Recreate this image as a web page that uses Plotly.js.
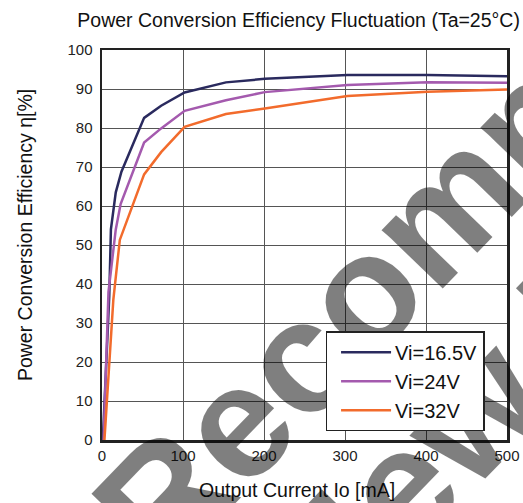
<!DOCTYPE html>
<html>
<head>
<meta charset="utf-8">
<script src="https://cdn.plot.ly/plotly-3.0.1.min.js"></script>
<style>html,body{margin:0;padding:0;background:#fff;}#chart{width:523px;height:503px;}</style>
</head>
<body>
<div id="chart"></div>
<script>
// Series data (Output current [mA] vs efficiency [%])
const seriesNames = ["Vi=16.5V", "Vi=24V", "Vi=32V"];
const xVi165 = [1, 9, 11, 17, 24, 52, 73, 102, 153, 201, 303, 402, 500];
const yVi165 = [0, 37, 54, 63.5, 68.8, 82.6, 85.7, 89.1, 91.7, 92.6, 93.6, 93.6, 93.3];
const xVi24 = [2, 8, 17, 23, 52, 73, 102, 153, 201, 303, 402, 500];
const yVi24 = [0, 38, 54, 60.5, 76.3, 79.9, 84.4, 87.1, 89.2, 91.0, 91.7, 91.6];
const xVi32 = [3, 14, 22, 52, 73, 102, 153, 201, 303, 402, 500];
const yVi32 = [0, 36, 51.3, 68.1, 73.8, 80.3, 83.6, 85.0, 88.2, 89.3, 89.9];
const xTicks = [0, 100, 200, 300, 400, 500];
const yTicks = [0, 10, 20, 30, 40, 50, 60, 70, 80, 90, 100];
const colors = ["#2a2a5e", "#a45aae", "#f26b2c"];

const FONT = "Liberation Sans, Arial, sans-serif";
const traces = [
  {x: xVi165, y: yVi165, name: seriesNames[0], line: {color: colors[0], width: 2.5}},
  {x: xVi24, y: yVi24, name: seriesNames[1], line: {color: colors[1], width: 2.5}},
  {x: xVi32, y: yVi32, name: seriesNames[2], line: {color: colors[2], width: 2.5}}
].map(t => Object.assign({type: "scatter", mode: "lines", cliponaxis: true}, t));

const layout = {
  width: 523, height: 503,
  margin: {l: 102, r: 16, t: 50, b: 63},
  paper_bgcolor: "#fff", plot_bgcolor: "#fff",
  font: {family: FONT, color: "#222"},
  showlegend: true,
  title: {text: "Power Conversion Efficiency Fluctuation (Ta=25°C)", font: {size: 19.5, color: "#111"},
          x: 0.571, xref: "container", xanchor: "center", y: 0.96, yref: "container", yanchor: "middle"},
  xaxis: {range: [0, 500], tickvals: xTicks, ticktext: xTicks.map(String), ticks: "",
          tickfont: {size: 15, color: "#222"}, showgrid: true, gridcolor: "#555", gridwidth: 1,
          showline: true, linecolor: "#222", linewidth: 2.5, mirror: true, zeroline: false},
  yaxis: {range: [0, 100], tickvals: yTicks, ticktext: yTicks.map(String), ticks: "",
          ticklabelstandoff: 4,
          tickfont: {size: 15, color: "#222"}, showgrid: true, gridcolor: "#555", gridwidth: 1,
          showline: true, linecolor: "#222", linewidth: 2.5, mirror: true, zeroline: false},
  legend: {x: 0.552, y: 0.279, xanchor: "left", yanchor: "top", bgcolor: "#fff",
           bordercolor: "#222", borderwidth: 1.5, font: {size: 20, color: "#111"},
           itemwidth: 58, tracegroupgap: 0},
  annotations: [
    {text: "Power Conversion Efficiency η[%]", xref: "paper", yref: "paper", x: -0.19, y: 0.5256,
     xanchor: "center", yanchor: "middle", showarrow: false, textangle: -90,
     font: {family: FONT, size: 19.5, color: "#111"}},
    {text: "Output Current Io [mA]", xref: "paper", yref: "paper", x: 0.4827, y: -0.128,
     xanchor: "center", yanchor: "middle", showarrow: false,
     font: {family: FONT, size: 19.5, color: "#111"}},
    {text: "Not Recommended", xref: "paper", yref: "paper", x: 0.7704, y: 0.5154,
     xanchor: "center", yanchor: "middle", showarrow: false, textangle: -46,
     font: {family: FONT, size: 160, color: "rgba(0,0,0,0.5)", weight: "bold"}},
    {text: "for New Designs", xref: "paper", yref: "paper", x: 1.0948, y: 0.2646,
     xanchor: "center", yanchor: "middle", showarrow: false, textangle: -46,
     font: {family: FONT, size: 160, color: "rgba(0,0,0,0.5)", weight: "bold"}}
  ]
};

Plotly.newPlot("chart", traces, layout, {displayModeBar: false, staticPlot: true}).then(gd => {
  const leg = gd.querySelector(".infolayer .legend");
  if (leg && leg.parentNode) leg.parentNode.appendChild(leg);
  gd.querySelectorAll(".legend .legendlines path").forEach(p => p.setAttribute("d", "M14,0h50"));
});
</script>
</body>
</html>
